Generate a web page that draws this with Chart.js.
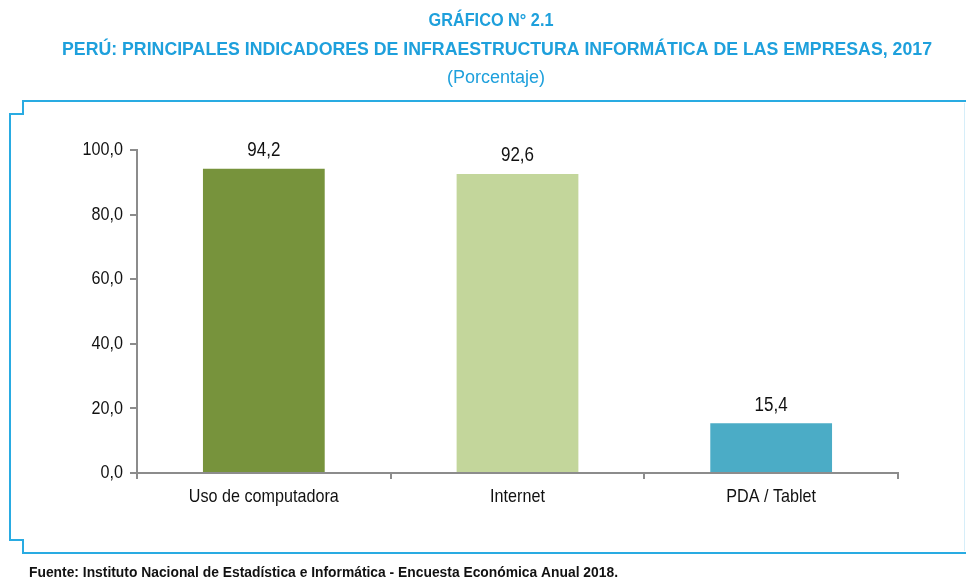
<!DOCTYPE html>
<html><head><meta charset="utf-8">
<script src="https://cdn.jsdelivr.net/npm/chart.js@4/dist/chart.umd.min.js"></script>
<style>html,body{margin:0;padding:0;background:#fff}#wrap{width:966px;height:579px;position:relative}</style>
</head><body><div id="wrap"><canvas id="c" width="966" height="579"></canvas></div>
<script>
const categories = ["Uso de computadora", "Internet", "PDA / Tablet"];
const values = [94.2, 92.6, 15.4];
const barColors = ["#77933c", "#c3d69b", "#4bacc6"];
const yTicks = [0, 20, 40, 60, 80, 100];
const titleLines = ["GRÁFICO N° 2.1", "PERÚ: PRINCIPALES INDICADORES DE INFRAESTRUCTURA INFORMÁTICA DE LAS EMPRESAS, 2017", "(Porcentaje)"];
const sourceText = "Fuente: Instituto Nacional de Estadística e Informática - Encuesta Económica Anual 2018.";

const FONT = "'Liberation Sans', Arial, sans-serif";
const NARROW = 0.85;
const fmt = v => v.toFixed(1).replace('.', ',');
const BLUE = "#1ea0dc";

// draw horizontally condensed text (Arial Narrow look)
function narrowText(ctx, text, x, y, font, align, sx) {
  ctx.save();
  ctx.font = font;
  ctx.textBaseline = 'middle';
  ctx.textAlign = 'left';
  const w = ctx.measureText(text).width * sx;
  let left = x;
  if (align === 'center') left = x - w / 2;
  else if (align === 'right') left = x - w;
  ctx.translate(left, y);
  ctx.scale(sx, 1);
  ctx.fillText(text, 0, 0);
  ctx.restore();
}
function fitText(ctx, text, cx, y, font, width) {
  ctx.save();
  ctx.font = font;
  const sx = width / ctx.measureText(text).width;
  ctx.restore();
  narrowText(ctx, text, cx, y, font, 'center', sx);
}

const decor = {
  id: 'decor',
  beforeDraw(chart) {
    const ctx = chart.ctx;
    ctx.save();
    ctx.fillStyle = '#fff';
    ctx.fillRect(0, 0, chart.width, chart.height);
    ctx.strokeStyle = "#29abe2";
    ctx.lineWidth = 2;
    ctx.beginPath();
    ctx.moveTo(966, 101); ctx.lineTo(23, 101); ctx.lineTo(23, 114); ctx.lineTo(10, 114);
    ctx.lineTo(10, 540); ctx.lineTo(23, 540); ctx.lineTo(23, 553); ctx.lineTo(966, 553);
    ctx.stroke();
    ctx.strokeStyle = "#d6eef9";
    ctx.lineWidth = 1;
    ctx.beginPath(); ctx.moveTo(964.5, 103); ctx.lineTo(964.5, 551); ctx.stroke();
    ctx.fillStyle = BLUE;
    fitText(ctx, titleLines[0], 491, 21, "bold 19px " + FONT, 125);
    fitText(ctx, titleLines[1], 497, 50, "bold 19px " + FONT, 870);
    fitText(ctx, titleLines[2], 496, 78, "18px " + FONT, 98);
    ctx.fillStyle = '#111';
    ctx.save(); ctx.font = "bold 14px " + FONT;
    const sw = ctx.measureText(sourceText).width; ctx.restore();
    narrowText(ctx, sourceText, 29, 573, "bold 14px " + FONT, 'left', 589 / sw);
    ctx.restore();
  },
  afterDraw(chart) {
    const ctx = chart.ctx;
    const xs = chart.scales.x, ys = chart.scales.y;
    ctx.save();
    ctx.fillStyle = '#111';
    yTicks.forEach(v => {
      narrowText(ctx, fmt(v), 123, ys.getPixelForValue(v), "19px " + FONT, 'right', NARROW);
    });
    categories.forEach((c, i) => {
      narrowText(ctx, c, xs.getPixelForTick(i), 497, "19px " + FONT, 'center', NARROW);
    });
    const meta = chart.getDatasetMeta(0);
    meta.data.forEach((bar, i) => {
      narrowText(ctx, fmt(values[i]), bar.x, bar.y - 18, "20px " + FONT, 'center', NARROW);
    });
    ctx.restore();
  }
};

new Chart(document.getElementById('c'), {
  type: 'bar',
  data: {
    labels: categories,
    datasets: [{ data: values, backgroundColor: barColors, borderWidth: 0,
      categoryPercentage: 1.0, barPercentage: 0.48 }]
  },
  options: {
    responsive: false,
    animation: false,
    layout: { padding: { left: 77, right: 68, top: 150, bottom: 66 } },
    plugins: { legend: { display: false }, tooltip: { enabled: false }, title: { display: false } },
    scales: {
      x: {
        offset: true,
        grid: { display: true, drawOnChartArea: false, offset: true, color: '#8c8c8c', tickLength: 6, lineWidth: 2 },
        border: { display: true, color: '#8c8c8c', width: 2 },
        ticks: { display: false },
        afterFit(s) { s.height = 40; }
      },
      y: {
        min: 0, max: 100,
        afterBuildTicks(s) { s.ticks = yTicks.map(v => ({ value: v })); },
        grid: { display: true, drawOnChartArea: false, color: '#8c8c8c', tickLength: 7, lineWidth: 2 },
        border: { display: true, color: '#8c8c8c', width: 2 },
        ticks: { display: false },
        afterFit(s) { s.width = 60; }
      }
    }
  },
  plugins: [decor]
});
</script></body></html>
